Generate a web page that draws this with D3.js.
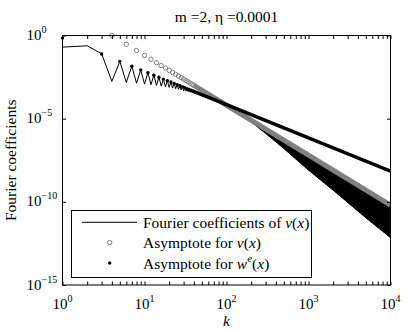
<!DOCTYPE html>
<html>
<head>
<meta charset="utf-8">
<script src="https://cdn.jsdelivr.net/npm/d3@7"></script>
<style>
  body { margin: 0; background: #fff; }
  svg text { font-family: "Liberation Serif", "DejaVu Serif", serif; fill: #000; }
</style>
</head>
<body>
<div id="vis"></div>
<script>
// Frame
const FRAME_WIDTH = 407;
const FRAME_HEIGHT = 332;
const MARGINS = {left: 62.5, right: 16.5, top: 35.5, bottom: 47};
const FONT = "'Liberation Serif', 'DejaVu Serif', serif";

const VIS_WIDTH = FRAME_WIDTH - MARGINS.left - MARGINS.right;
const VIS_HEIGHT = FRAME_HEIGHT - MARGINS.top - MARGINS.bottom;

// Data
// Fourier coefficients of v(x), one per k for the small k part
const fourierK = [1, 2, 3, 4, 5, 6, 7, 8, 9, 10,
                  11, 12, 13, 14, 15, 16, 17, 18, 19, 20,
                  21, 22, 23, 24, 25, 26, 27, 28, 29, 30,
                  31, 32, 33, 34, 35, 36, 37, 38, 39, 40];
const fourierVal = [0.20, 0.24, 0.080, 1.75e-3, 0.028, 1.5e-3, 0.0143, 1.35e-3, 0.0086, 1.2e-3,
                    0.0058, 1.1e-3, 0.0041, 1.0e-3, 0.0031, 9.1e-4, 0.0024, 8.3e-4, 0.0019, 7.6e-4,
                    0.0016, 6.9e-4, 0.00132, 6.3e-4, 0.00112, 5.8e-4, 0.00096, 5.3e-4, 0.00083, 4.8e-4,
                    0.00072, 4.5e-4, 0.00063, 4.2e-4, 0.00056, 3.9e-4, 0.00050, 3.7e-4, 0.00045, 3.5e-4];

// dense part of the Fourier coefficients: upper (odd k) and lower (even k) envelope
const bandK = [40, 50, 70, 100, 150, 200, 300, 500, 1000, 2000, 5000, 10000];
const bandUpper = [4.4e-4, 2.8e-4, 1.45e-4, 6.4e-5, 1.95e-5, 8e-6, 2.35e-6, 5.0e-7, 6.2e-8, 7.8e-9, 5e-10, 6.2e-11];
const bandLower = [3.5e-4, 2.6e-4, 1.35e-4, 6e-5, 1.8e-5, 6.3e-6, 1.3e-6, 1.6e-7, 8e-9, 5e-10, 1.1e-11, 7e-13];

// Asymptote for v(x): circles at even k
const circleK = [4, 6, 8, 10, 12, 14, 16, 18, 20, 22, 24, 26, 28, 30, 32, 34, 36, 38, 40];
const circleVal = [1.0, 0.296, 0.125, 0.064, 0.037, 0.0233, 0.0156, 0.011, 0.008, 0.0060,
                   0.00463, 0.00364, 0.00292, 0.00237, 0.00195, 0.00163, 0.00137, 0.00117, 0.001];
const circleTailK = [40, 100, 1000, 10000];
const circleTailVal = [1.0e-3, 6.4e-5, 6.4e-8, 6.4e-11];

// Asymptote for w^e(x): dots at odd k
const dotK = [1, 3, 5, 7, 9, 11, 13, 15, 17, 19, 21, 23, 25, 27, 29, 31, 33, 35, 37, 39];
const dotVal = [0.70, 0.078, 0.028, 0.0143, 0.0086, 0.0058, 0.0041, 0.0031, 0.0024, 0.0019,
                0.0016, 0.00132, 0.00112, 0.00096, 0.00083, 0.00073, 0.00064, 0.00057, 0.00051, 0.00046];
const dotTailK = [39, 100, 1000, 10000];
const dotTailVal = [4.6e-4, 7e-5, 7e-7, 7e-9];

// axis ticks
const xMajor = [1, 10, 100, 1000, 10000];
const xMajorExp = ["0", "1", "2", "3", "4"];
const yMajor = [1, 1e-5, 1e-10, 1e-15];
const yMajorExp = ["0", "\u22125", "\u221210", "\u221215"];

const FRAME = d3.select("#vis")
                .append("svg")
                  .attr("width", FRAME_WIDTH)
                  .attr("height", FRAME_HEIGHT)
                  .attr("font-family", FONT);

const X_SCALE = d3.scaleLog()
                  .domain([1, 1e4])
                  .range([MARGINS.left, MARGINS.left + VIS_WIDTH]);

const Y_SCALE = d3.scaleLog()
                  .domain([1e-15, 1])
                  .range([MARGINS.top + VIS_HEIGHT, MARGINS.top]);

// clip for the lines
FRAME.append("clipPath").attr("id", "plotclip")
     .append("rect")
       .attr("x", MARGINS.left).attr("y", MARGINS.top)
       .attr("width", VIS_WIDTH).attr("height", VIS_HEIGHT);

const plot = FRAME.append("g").attr("clip-path", "url(#plotclip)");

const line = d3.line()
               .x(d => X_SCALE(d[0]))
               .y(d => Y_SCALE(d[1]));

// Fourier coefficients, zigzag part
plot.append("path")
    .datum(fourierK.map((k, i) => [k, fourierVal[i]]))
    .attr("d", line)
    .attr("fill", "none")
    .attr("stroke", "#000")
    .attr("stroke-width", 1);

// Fourier coefficients, dense part
plot.append("path")
    .datum(bandK.map((k, i) => [k, bandUpper[i], bandLower[i]]))
    .attr("d", d3.area()
                 .x(d => X_SCALE(d[0]))
                 .y0(d => Y_SCALE(d[2]))
                 .y1(d => Y_SCALE(d[1])))
    .attr("fill", "#000")
    .attr("stroke", "#000")
    .attr("stroke-width", 1);

// v asymptote, dense part
plot.append("path")
    .datum(circleTailK.map((k, i) => [k, circleTailVal[i]]))
    .attr("d", line)
    .attr("fill", "none")
    .attr("stroke", "#808080")
    .attr("stroke-width", 5);

FRAME.selectAll(".circ")
     .data(circleK.map((k, i) => [k, circleVal[i]]))
     .enter()
     .append("circle")
       .attr("cx", d => X_SCALE(d[0]))
       .attr("cy", d => Y_SCALE(d[1]))
       .attr("r", 2.2)
       .attr("fill", "none")
       .attr("stroke", "#808080")
       .attr("stroke-width", 1);

// w^e asymptote
plot.append("path")
    .datum(dotTailK.map((k, i) => [k, dotTailVal[i]]))
    .attr("d", line)
    .attr("fill", "none")
    .attr("stroke", "#000")
    .attr("stroke-width", 3.5);

FRAME.selectAll(".dot")
     .data(dotK.map((k, i) => [k, dotVal[i]]))
     .enter()
     .append("circle")
       .attr("cx", d => X_SCALE(d[0]))
       .attr("cy", d => Y_SCALE(d[1]))
       .attr("r", 1.7)
       .attr("fill", "#000");

// ticks, all inward
let xMinor = [];
for (let p = 0; p < 4; p++) {
  for (let m = 1; m < 10; m++) xMinor.push(m * Math.pow(10, p));
}
xMinor.push(10000);

function cleanAxis(g) {
  g.select(".domain").remove();
  g.selectAll(".tick line").attr("stroke", "#000").attr("stroke-width", 1);
}

FRAME.append("g")
     .attr("transform", "translate(0," + (MARGINS.top + VIS_HEIGHT) + ")")
     .call(d3.axisBottom(X_SCALE).tickValues(xMinor).tickSize(-3.5).tickFormat(""))
     .call(cleanAxis);

FRAME.append("g")
     .attr("transform", "translate(0," + MARGINS.top + ")")
     .call(d3.axisTop(X_SCALE).tickValues(xMinor).tickSize(-3.5).tickFormat(""))
     .call(cleanAxis);

FRAME.append("g")
     .attr("transform", "translate(" + MARGINS.left + ",0)")
     .call(d3.axisLeft(Y_SCALE).tickValues(yMajor).tickSize(-3.5).tickFormat(""))
     .call(cleanAxis);

FRAME.append("g")
     .attr("transform", "translate(" + (MARGINS.left + VIS_WIDTH) + ",0)")
     .call(d3.axisRight(Y_SCALE).tickValues(yMajor).tickSize(-3.5).tickFormat(""))
     .call(cleanAxis);

// box
FRAME.append("rect")
     .attr("x", MARGINS.left).attr("y", MARGINS.top)
     .attr("width", VIS_WIDTH).attr("height", VIS_HEIGHT)
     .attr("fill", "none").attr("stroke", "#000").attr("stroke-width", 1);

// tick labels with superscripts
xMajor.forEach((v, i) => {
  const t = FRAME.append("text")
                 .attr("x", X_SCALE(v))
                 .attr("y", 309)
                 .attr("text-anchor", "middle")
                 .attr("font-family", FONT)
                 .attr("font-size", "15px");
  t.append("tspan").text("10");
  t.append("tspan").attr("dy", -7).attr("font-size", "10px").text(xMajorExp[i]);
});

yMajor.forEach((v, i) => {
  const t = FRAME.append("text")
                 .attr("x", 26.5)
                 .attr("y", Y_SCALE(v) + 4.5)
                 .attr("font-family", FONT)
                 .attr("font-size", "15px");
  t.append("tspan").text("10");
  t.append("tspan").attr("dy", -7).attr("font-size", "10px").text(yMajorExp[i]);
});

// title and axis labels
FRAME.append("text")
     .attr("x", MARGINS.left + VIS_WIDTH / 2)
     .attr("y", 22)
     .attr("text-anchor", "middle")
     .attr("font-family", FONT)
     .attr("font-size", "15.5px")
     .text("m =2, \u03b7 =0.0001");

FRAME.append("text")
     .attr("x", MARGINS.left + VIS_WIDTH / 2)
     .attr("y", 326)
     .attr("text-anchor", "middle")
     .attr("font-family", FONT)
     .attr("font-size", "15.5px")
     .attr("font-style", "italic")
     .text("k");

FRAME.append("text")
     .attr("transform", "translate(16," + (MARGINS.top + VIS_HEIGHT / 2) + ") rotate(-90)")
     .attr("text-anchor", "middle")
     .attr("font-family", FONT)
     .attr("font-size", "15.5px")
     .text("Fourier coefficients");

// legend
const legend = FRAME.append("g");
legend.append("rect")
      .attr("x", 71.5).attr("y", 210.5)
      .attr("width", 240).attr("height", 67)
      .attr("fill", "#fff").attr("stroke", "#000").attr("stroke-width", 1);

const rowY = [222.3, 242.5, 263];

legend.append("line")
      .attr("x1", 82).attr("x2", 137)
      .attr("y1", rowY[0]).attr("y2", rowY[0])
      .attr("stroke", "#000").attr("stroke-width", 1);
legend.append("circle")
      .attr("cx", 109.7).attr("cy", rowY[1]).attr("r", 2.2)
      .attr("fill", "none").attr("stroke", "#808080").attr("stroke-width", 1);
legend.append("circle")
      .attr("cx", 109.7).attr("cy", rowY[2]).attr("r", 1.7)
      .attr("fill", "#000");

function legendText(y, parts) {
  const t = legend.append("text")
                  .attr("x", 143)
                  .attr("y", y + 5.7)
                  .attr("font-family", FONT)
                  .attr("font-size", "15.5px");
  parts.forEach(p => {
    const s = t.append("tspan").text(p.s);
    if (p.i) s.attr("font-style", "italic");
    if (p.dy) s.attr("dy", p.dy);
    if (p.fs) s.attr("font-size", p.fs);
  });
}

legendText(rowY[0], [{s: "Fourier coefficients of "}, {s: "v", i: true}, {s: "("},
                     {s: "x", i: true}, {s: ")"}]);
legendText(rowY[1], [{s: "Asymptote for "}, {s: "v", i: true}, {s: "("},
                     {s: "x", i: true}, {s: ")"}]);
legendText(rowY[2], [{s: "Asymptote for "}, {s: "w", i: true},
                     {s: "e", i: true, dy: -7, fs: "11px"},
                     {s: "(", dy: 7}, {s: "x", i: true}, {s: ")"}]);
</script>
</body>
</html>
